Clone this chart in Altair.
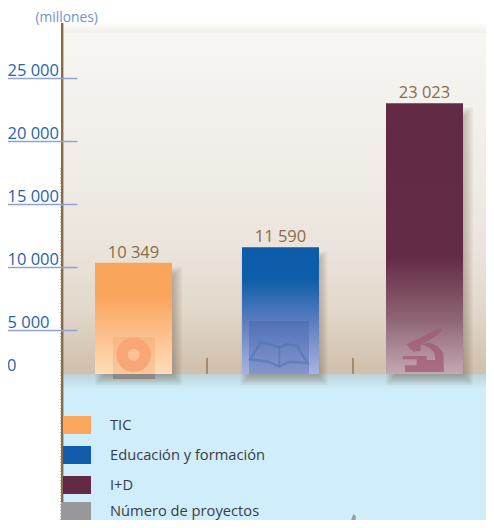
import altair as alt
import pandas as pd

# ---- values ----
categories = ["TIC", "Educación y formación", "I+D"]
values = [10349, 11590, 23023]
separators = ["sep1", "sep2"]
axis_ticks = [5000, 10000, 15000, 20000, 25000]
legend_labels = ["TIC", "Educación y formación", "I+D", "Número de proyectos"]
legend_colors = ["#FBA75E", "#115CAB", "#622A45", "#98989C"]
horizon_value = 1510  # where the ground panel cuts the bars

# ---- layout ----
W, H = 478, 512
FONT = "Open Sans"
def px(v):  # page x/y -> plot coordinate
    return v - 8

rows = [{"cat": c, "value": v, "label": f"{v:,}".replace(",", " ")} for c, v in zip(categories, values)]
df = pd.DataFrame(rows)

x_scale = alt.Scale(type="point", domain=[categories[0], separators[0], categories[1], separators[1], categories[2]],
                    range=[px(133.5), px(424.5)], padding=0)
y_scale = alt.Scale(domain=[-10095, 30604], range=[H, 0], nice=False, zero=False)
axis_cfg = alt.Axis(
    values=axis_ticks, orient="left", offset=-69, zindex=2, grid=False, domain=False,
    tickSize=70, tickColor="#8FA2D7", tickWidth=1.4,
    labelAlign="left", labelBaseline="alphabetic", labelPadding=0, labelOffset=-2.5,
    labelFont=FONT, labelFontSize=16.5, labelColor="#1F64AE",
    labelExpr="replace(format(datum.value, ','), ',', ' ')",
    title="(millones)", titleFont=FONT, titleFontSize=13.8, titleFontWeight="normal", titleColor="#6F94CB",
    titleAngle=0, titleAlign="left", titleBaseline="alphabetic", titleX=-42, titleY=13)
X = alt.X("cat:N", scale=x_scale, axis=None)
Y = alt.Y("value:Q", scale=y_scale, axis=axis_cfg)
BASE = alt.Y2(datum=horizon_value)

def grad(stops):
    return alt.Gradient(gradient="linear", x1=0, y1=0, x2=0, y2=1,
                        stops=[alt.GradientStop(offset=o, color=c) for o, c in stops])

def box(x0, x1, y0, y1, color, **kw):
    return alt.Chart().mark_rect(color=color, **kw).encode(
        x=alt.value(px(x0)), x2=alt.value(px(x1)), y=alt.value(px(y0)), y2=alt.value(px(y1)))

def glyph(points):
    return " ".join(("M" if i == 0 else "L") + f"{a:.3f},{b:.3f}" for i, (a, b) in enumerate(points)) + " Z"

def norm(polys, cx, cy, half):
    return " ".join(glyph([((a - cx) / half, (b - cy) / half) for a, b in p]) for p in polys)

def icon(path, x, y, span, **kw):
    return alt.Chart().mark_point(shape=path, size=span ** 2, **kw).encode(
        x=alt.value(px(x)), y=alt.value(px(y)))

micro = norm([
    [(80,103),(178,55),(186,60),(172,76),(112,112),(104,128),(97,120),(90,118)],
    [(125,103),(150,98),(175,110),(190,130),(192,186),(75,186),(75,166),(110,166),(110,148),(68,148),(68,138),(140,138),(140,150),(166,150),(163,128),(148,113)],
    [(108,112),(122,106),(122,124),(108,124)],
], 130, 120, 67)
book = norm([
    [(30,148),(62,97),(90,103),(118,112),(140,103),(170,107),(203,160),(150,155),(118,170),(85,155)],
], 116, 133, 87)
spine = norm([[(118,112),(118,170)]], 116, 133, 87)
tool = norm([[(78,62),(85,42),(92,48),(92,62),(102,63),(92,82),(76,84)],[(50,84),(66,78),(66,90),(50,90)]], 78, 66, 28)

layers = []

# background
layers.append(box(62, 494, 22, 33, grad([(0, "#FFFFFF"), (1, "#F1EFEA")])))
layers.append(box(62, 494, 33, 374, grad([(0, "#F7F6F2"), (0.34, "#F1EEE9"), (0.63, "#EBE4DC"), (0.81, "#E2D8CB"), (1, "#CFBFAC")])))
layers.append(box(62, 494, 374, 528, grad([(0, "#BCD2D8"), (0.1, "#CFEDFA"), (1, "#CFEDFA")])))

# soft bar shadows
for e in [5, 3.5, 2, 0.5, -1, -2.5, -4]:
    layers.append(alt.Chart(df).mark_bar(size=77 + e * 2, color="#4F3F28", opacity=0.05, xOffset=5,
                                         yOffset=9 - e).encode(
        x=X, y=Y, y2=alt.Y2(datum=horizon_value - (6 + e) / 0.01258)))

# gray square below the TIC bar
layers.append(box(113, 155, 366, 379, "#8D8A84"))

# gap ticks
for name, off in zip(separators, [0.75, 1.25]):
    layers.append(alt.Chart(pd.DataFrame({"cat": [name]})).mark_rule(color="#8A6C4A", size=1.3, xOffset=off).encode(
        x=X, y=alt.value(px(358)), y2=alt.value(px(374))))

# bars
fills = [
    [(0, "#FAA55C"), (0.3, "#FAA55C"), (0.65, "#FDC08C"), (1, "#FFDDB9")],
    [(0, "#0D5CAA"), (0.26, "#0F5EAA"), (0.6, "#5F7FC0"), (1, "#A8B4E2")],
    [(0, "#622A45"), (0.57, "#642B46"), (0.8, "#8F6676"), (1, "#C5A8B3")],
]
for i, (cat, fill) in enumerate(zip(categories, fills)):
    layers.append(alt.Chart(df[df.cat == cat]).mark_bar(size=77, color=grad(fill), xOffset=[0, 1.5, 0][i]).encode(
        x=X, y=Y, y2=BASE))

# translucent project squares inside bars
layers.append(box(113, 155, 337, 374, "#F79A6A", opacity=0.32))
layers.append(box(249, 309, 321, 374, "#3A58A8", opacity=0.32))

# icons
layers.append(icon("circle", 133.7, 354.7, 34.6, filled=True, color="#F8A676", opacity=1))
layers.append(icon("circle", 133.7, 354.7, 12, filled=True, color="#FCC195", opacity=1))
layers.append(icon(book, 240 + 116 / 3, 310 + 133 / 3, 58, filled=False, color="#5275B8", strokeWidth=2.6, opacity=0.6))
layers.append(icon(spine, 240 + 116 / 3, 310 + 133 / 3, 58, filled=False, color="#5275B8", strokeWidth=2, opacity=0.6))
layers.append(icon(micro, 380 + 130 / 3, 310 + 120 / 3, 44.7, filled=True, color="#A25A76", opacity=0.75))
layers.append(icon(tool, 325 + 78 / 3, 500 + 66 / 3, 18.7, filled=True, color="#9C9C98", opacity=1))

# value labels
for i, cat in enumerate(categories):
    layers.append(alt.Chart(df[df.cat == cat]).mark_text(
        font=FONT, fontSize=16.5, color="#8A6C4A", baseline="alphabetic", dy=-5, dx=[0, 1.5, 0][i]).encode(
        x=X, y=Y, text="label:N"))

# dotted edge and the axis line
layers.append(alt.Chart().mark_rule(color="#C4C0BB", strokeDash=[1, 2], size=1).encode(
    x=alt.value(px(60.5)), y=alt.value(px(168)), y2=alt.value(px(528))))
layers.append(alt.Chart().mark_rule(color="#8B6B45", size=2.4).encode(
    x=alt.value(px(62.2)), y=alt.value(px(23)), y2=alt.value(px(528))))

layers.append(alt.Chart(pd.DataFrame({"t": ["0"]})).mark_text(
    font=FONT, fontSize=16.5, color="#1F64AE", align="left", baseline="alphabetic").encode(
    x=alt.value(px(7)), y=alt.value(px(371)), text="t:N"))

# legend
swatch_tops = [416, 446, 476, 502]
for label, color, top in zip(legend_labels, legend_colors, swatch_tops):
    left = 61 if label == legend_labels[-1] else 63
    layers.append(box(left, 91, top, top + 18, color))
    layers.append(alt.Chart(pd.DataFrame({"t": [label]})).mark_text(
        font=FONT, fontSize=14.7, color="#3B3B45", align="left", baseline="middle").encode(
        x=alt.value(px(110)), y=alt.value(px(top + 9.5)), text="t:N"))

chart = alt.layer(*layers).properties(
    width=W, height=H, padding=0, autosize=alt.AutoSizeParams(type="none"), background="#FFFFFF"
).configure_view(stroke=None)

chart.save("out.html", embed_options={"renderer": "svg", "actions": False})
